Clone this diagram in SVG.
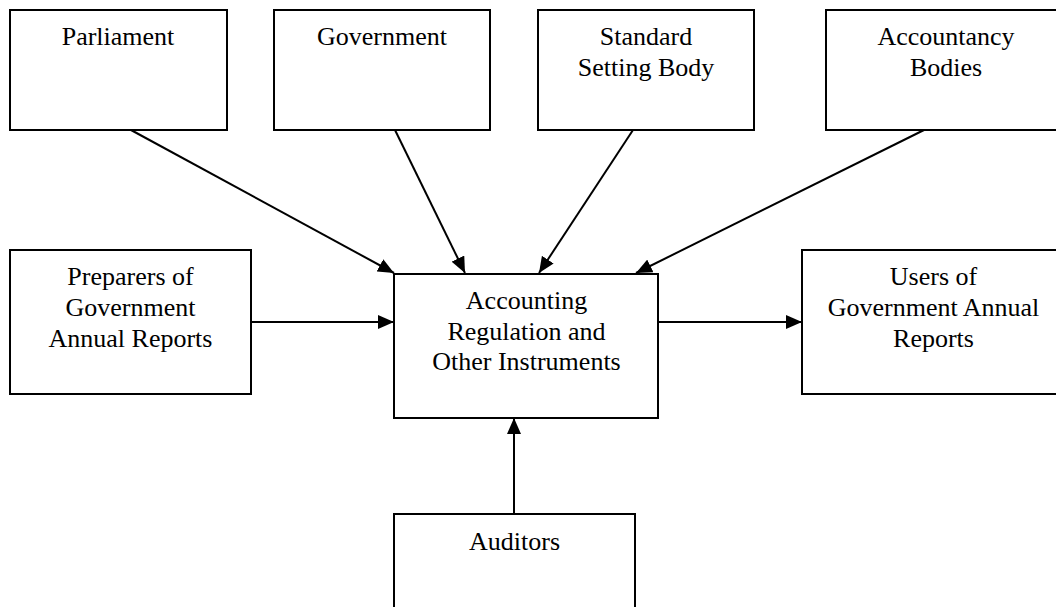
<svg xmlns="http://www.w3.org/2000/svg" width="1056" height="607" viewBox="0 0 1056 607">
  <style>
    .box { fill: #ffffff; stroke: #000000; stroke-width: 2; }
    .lbl { font-family: "Liberation Serif", "Times New Roman", serif; font-size: 26px; fill: #000000; text-anchor: middle; }
    .link { stroke: #000000; stroke-width: 2; fill: none; marker-end: url(#head); }
  </style>
  <defs>
    <marker id="head" viewBox="0 0 16 14" refX="16" refY="7" markerWidth="16" markerHeight="14" markerUnits="userSpaceOnUse" orient="auto">
      <path d="M0,0 L16,7 L0,14 Z" fill="#000000"/>
    </marker>
  </defs>
  <rect width="1056" height="607" fill="#ffffff"/>

  <g id="connectors">
    <line class="link" x1="131" y1="130" x2="394" y2="273"/>
    <line class="link" x1="395" y1="130" x2="465" y2="273"/>
    <line class="link" x1="633" y1="130" x2="539" y2="273"/>
    <line class="link" x1="924" y1="130" x2="636" y2="273"/>
    <line class="link" x1="251" y1="322" x2="394" y2="322"/>
    <line class="link" x1="658" y1="322" x2="802" y2="322"/>
    <line class="link" x1="514" y1="514" x2="514" y2="418"/>
  </g>

  <g id="parliament">
    <rect class="box" x="10" y="10" width="217" height="120"/>
    <text class="lbl" x="118" y="45">Parliament</text>
  </g>
  <g id="government">
    <rect class="box" x="274" y="10" width="216" height="120"/>
    <text class="lbl" x="382" y="45">Government</text>
  </g>
  <g id="standard-setting-body">
    <rect class="box" x="538" y="10" width="216" height="120"/>
    <text class="lbl" x="646" y="45">Standard</text>
    <text class="lbl" x="646" y="76">Setting Body</text>
  </g>
  <g id="accountancy-bodies">
    <rect class="box" x="826" y="10" width="240" height="120"/>
    <text class="lbl" x="946" y="45">Accountancy</text>
    <text class="lbl" x="946" y="76">Bodies</text>
  </g>
  <g id="preparers">
    <rect class="box" x="10" y="250" width="241" height="144"/>
    <text class="lbl" x="130.5" y="285">Preparers of</text>
    <text class="lbl" x="130.5" y="316">Government</text>
    <text class="lbl" x="130.5" y="347">Annual Reports</text>
  </g>
  <g id="accounting-regulation">
    <rect class="box" x="394" y="274" width="264" height="144"/>
    <text class="lbl" x="526.5" y="309">Accounting</text>
    <text class="lbl" x="526.5" y="340">Regulation and</text>
    <text class="lbl" x="526.5" y="370">Other Instruments</text>
  </g>
  <g id="users">
    <rect class="box" x="802" y="250" width="263" height="144"/>
    <text class="lbl" x="933.5" y="285">Users of</text>
    <text class="lbl" x="933.5" y="316">Government Annual</text>
    <text class="lbl" x="933.5" y="347">Reports</text>
  </g>
  <g id="auditors">
    <rect class="box" x="394" y="514" width="241" height="120"/>
    <text class="lbl" x="514.5" y="550">Auditors</text>
  </g>
</svg>
